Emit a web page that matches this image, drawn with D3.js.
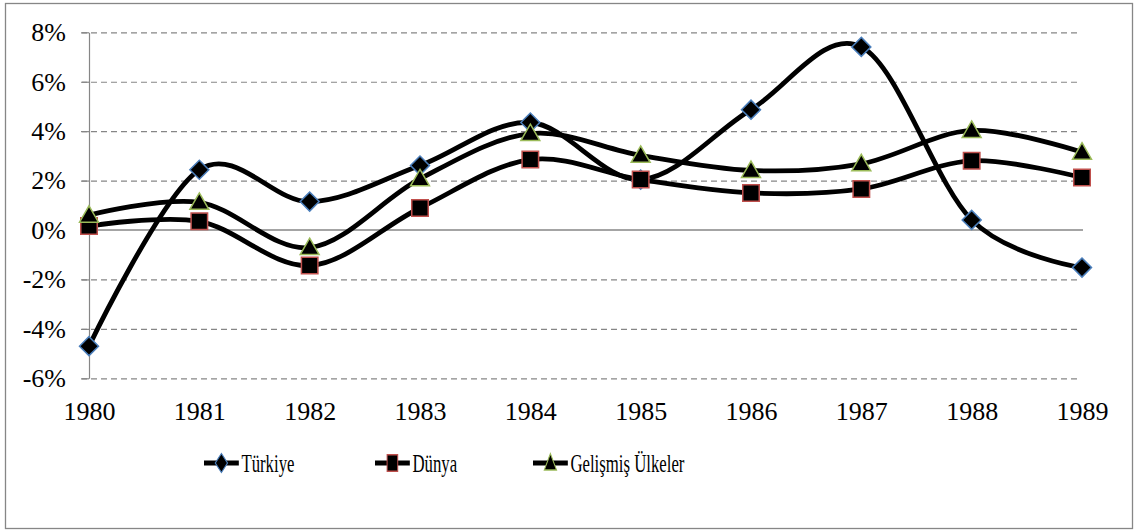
<!DOCTYPE html>
<meta charset="utf-8">
<style>
	body { margin: 0; background: #fff; }
	.grid line { stroke: #868686; stroke-width: 1.2px; stroke-dasharray: 6 4; }
	.grid .domain { display: none; }
	.yaxis .domain, .yaxis line { stroke: #868686; stroke-width: 1.2px; }
	.line { fill: none; stroke: #000; stroke-width: 4.8px; }
</style>
<body>
<script src="https://cdn.jsdelivr.net/npm/d3@7"></script>
<script>

// Data
var years = [1980, 1981, 1982, 1983, 1984, 1985, 1986, 1987, 1988, 1989];
var turkiye = [-4.7, 2.44, 1.15, 2.61, 4.35, 2.04, 4.87, 7.41, 0.41, -1.52];
var dunya = [0.16, 0.35, -1.44, 0.89, 2.85, 2.04, 1.5, 1.66, 2.8, 2.12];
var gelismis = [0.6, 1.12, -0.71, 2.07, 3.9, 3.02, 2.41, 2.68, 4.03, 3.15];
var yTicks = [-6, -4, -2, 0, 2, 4, 6, 8];
var seriesNames = ["Türkiye", "Dünya", "Gelişmiş Ülkeler"];

var W = 1136, H = 531;
var FONT = "'Liberation Serif', 'Times New Roman', serif";

var svg = d3.select("body").append("svg")
	.attr("width", W)
	.attr("height", H);

// outer frame
svg.append("rect")
	.attr("x", 5.5).attr("y", 3.5)
	.attr("width", 1127).attr("height", 525)
	.attr("fill", "#fff")
	.attr("stroke", "#868686")
	.attr("stroke-width", 1.3);

var x = d3.scaleLinear().domain([1980, 1989]).range([89, 1082]);
var y = d3.scaleLinear().domain([-6, 8]).range([378.3, 32.3]);

// dashed grid
svg.append("g")
	.attr("class", "grid")
	.attr("transform", "translate(81,0)")
	.call(d3.axisLeft(y).tickValues(yTicks.filter(function(d) { return d != 0; }))
		.tickSize(-(1078 - 81)).tickFormat(""));

// y axis
var yAxis = svg.append("g")
	.attr("class", "yaxis")
	.attr("transform", "translate(89,0)")
	.call(d3.axisLeft(y).tickValues(yTicks).tickSize(7).tickSizeOuter(0).tickPadding(16)
		.tickFormat(function(d) { return d + "%"; }));
yAxis.selectAll("text")
	.style("font-family", FONT)
	.style("font-size", "26px")
	.style("fill", "#000");

// zero line
svg.append("line")
	.attr("x1", 89).attr("x2", 1083)
	.attr("y1", y(0)).attr("y2", y(0))
	.attr("stroke", "#868686")
	.attr("stroke-width", 1.3);

// x labels
var xAxis = svg.append("g")
	.attr("transform", "translate(0," + y(-6) + ")")
	.call(d3.axisBottom(x).tickValues(years).tickSize(0).tickPadding(23).tickFormat(d3.format("d")));
xAxis.select(".domain").remove();
xAxis.selectAll("text")
	.style("font-family", FONT)
	.style("font-size", "26px")
	.style("fill", "#000");

var curve = d3.line()
	.x(function(d, i) { return x(years[i]); })
	.y(function(d) { return y(d); })
	.curve(d3.curveCardinal.tension(0));

var markers = [
	{ sym: d3.symbolSquare, size: 180, rot: 45, stroke: "#4a7ebb" },
	{ sym: d3.symbolSquare, size: 272, rot: 0, stroke: "#c0504d" },
	{ sym: d3.symbolTriangle, size: 155, rot: 0, stroke: "#9bbb59" }
];
var allSeries = [turkiye, dunya, gelismis];

function drawMarker(g, m, cx, cy) {
	g.append("path")
		.attr("d", d3.symbol().type(m.sym).size(m.size)())
		.attr("transform", "translate(" + cx + "," + cy + ") rotate(" + m.rot + ")")
		.attr("fill", "#000")
		.attr("stroke", m.stroke)
		.attr("stroke-width", 1.5);
}

allSeries.forEach(function(vals, s) {
	var g = svg.append("g");
	g.append("path")
		.datum(vals)
		.attr("class", "line")
		.attr("d", curve);
	vals.forEach(function(v, i) {
		drawMarker(g, markers[s], x(years[i]), y(v) + (s == 2 ? 1.5 : 0));
	});
});

// legend (Excel squeezes it horizontally)
var legendX = [204, 375, 533];
var legendY = 463;
seriesNames.forEach(function(name, s) {
	var g = svg.append("g")
		.attr("transform", "translate(" + legendX[s] + "," + legendY + ") scale(0.645,1)");
	g.append("line")
		.attr("x1", 0).attr("x2", 54)
		.attr("y1", 0).attr("y2", 0)
		.attr("stroke", "#000")
		.attr("stroke-width", 4.8);
	drawMarker(g, markers[s], 27, s == 2 ? 1.5 : 0);
	g.append("text")
		.attr("x", 58)
		.attr("y", 0)
		.attr("dy", "0.33em")
		.style("font-family", FONT)
		.style("font-size", "26px")
		.text(name);
});

</script>
</body>
